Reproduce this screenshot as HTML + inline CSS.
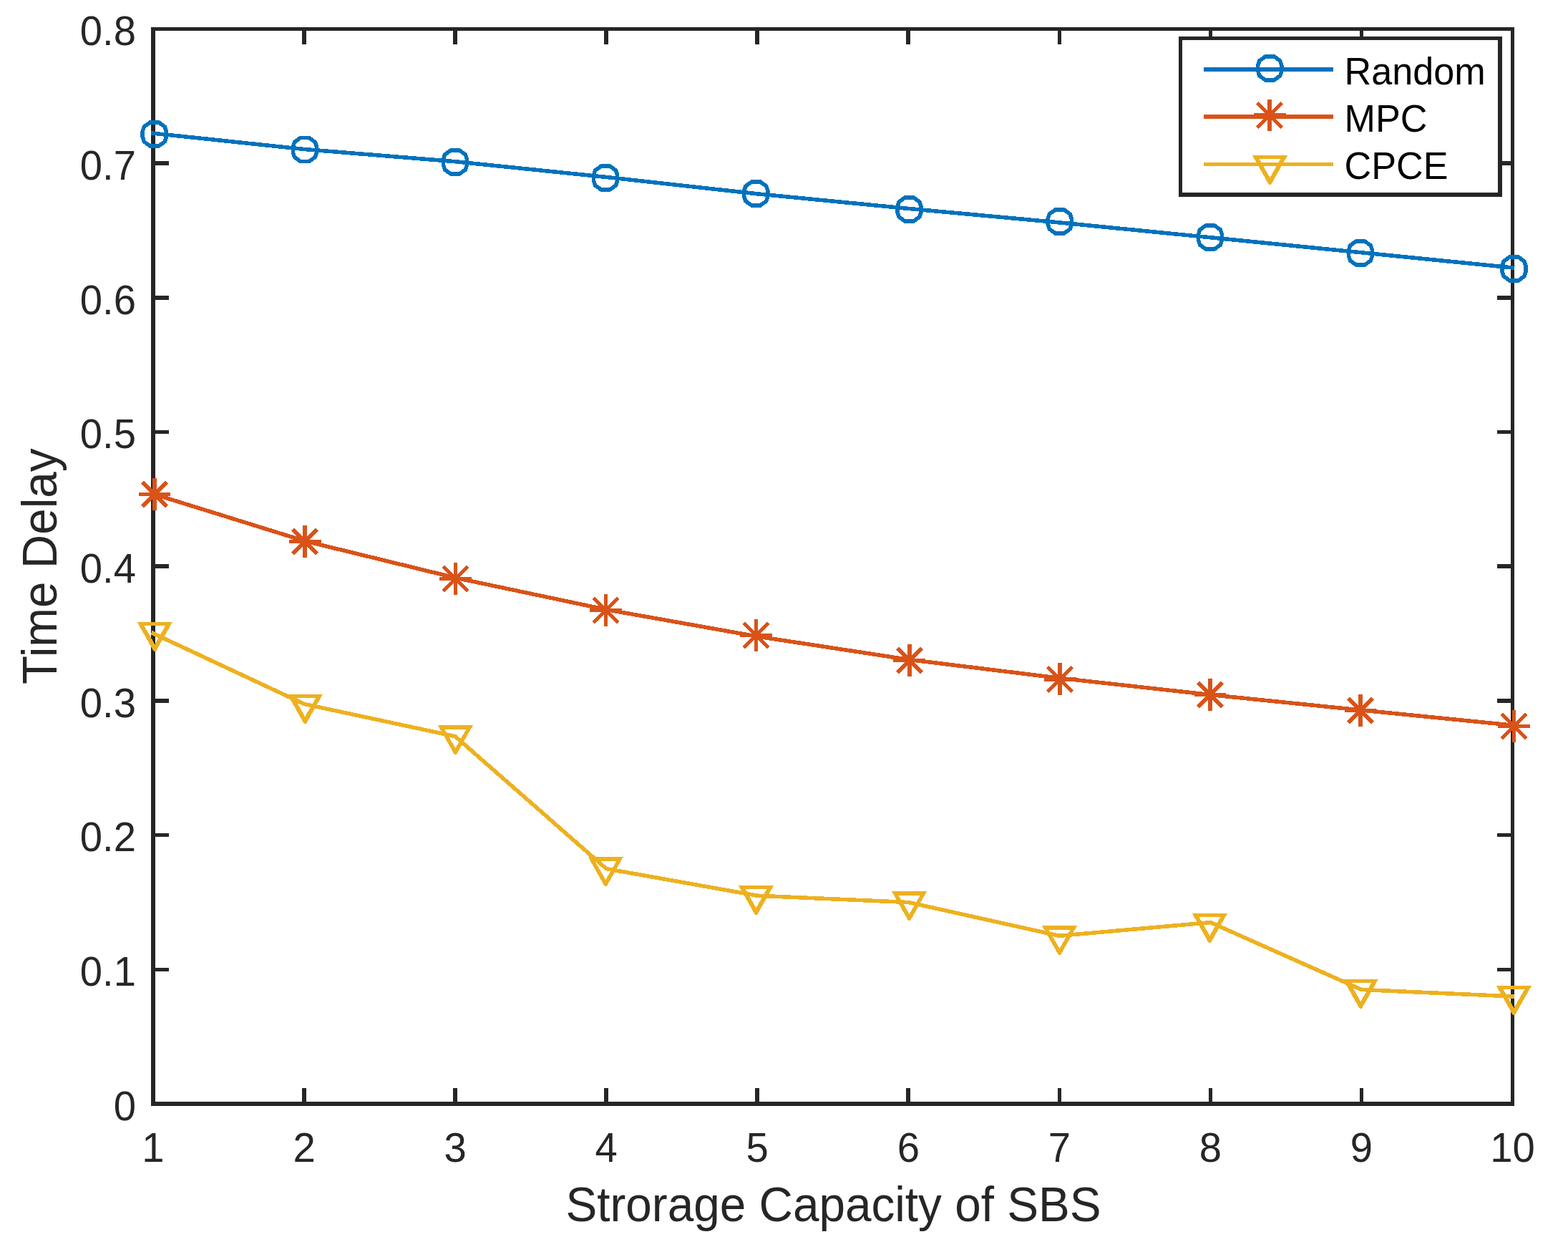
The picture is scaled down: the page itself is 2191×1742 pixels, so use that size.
<!DOCTYPE html>
<html lang="en">
<head>
<meta charset="utf-8">
<title>Time Delay vs Strorage Capacity of SBS</title>
<style>
html,body{margin:0;padding:0;background:#fff;}
body{width:2191px;height:1742px;overflow:hidden;}
svg{display:block;}
text{font-family:"Liberation Sans",Arial,Helvetica,sans-serif;}
.tick{font-size:58.06px;fill:#262626;}
.label{font-size:69.34px;fill:#262626;}
.leg{font-size:54.3px;fill:#000;}
</style>
</head>
<body>
<svg width="2191" height="1742" viewBox="0 0 2191 1742">
<rect x="0" y="0" width="2191" height="1742" fill="#ffffff"/>
<g id="axes" shape-rendering="crispEdges">
<rect x="211" y="38" width="1905" height="5" fill="#262626"/>
<rect x="211" y="1539" width="1905" height="6" fill="#262626"/>
<rect x="211" y="38" width="6" height="1507" fill="#262626"/>
<rect x="2111" y="38" width="5" height="1507" fill="#262626"/>
<rect x="422" y="1520" width="6" height="22" fill="#262626"/>
<rect x="422" y="41" width="6" height="21" fill="#262626"/>
<rect x="633" y="1520" width="6" height="22" fill="#262626"/>
<rect x="633" y="41" width="6" height="21" fill="#262626"/>
<rect x="844" y="1520" width="6" height="22" fill="#262626"/>
<rect x="844" y="41" width="6" height="21" fill="#262626"/>
<rect x="1055" y="1520" width="6" height="22" fill="#262626"/>
<rect x="1055" y="41" width="6" height="21" fill="#262626"/>
<rect x="1266" y="1520" width="6" height="22" fill="#262626"/>
<rect x="1266" y="41" width="6" height="21" fill="#262626"/>
<rect x="1478" y="1520" width="5" height="22" fill="#262626"/>
<rect x="1478" y="41" width="5" height="21" fill="#262626"/>
<rect x="1689" y="1520" width="5" height="22" fill="#262626"/>
<rect x="1689" y="41" width="5" height="21" fill="#262626"/>
<rect x="1900" y="1520" width="5" height="22" fill="#262626"/>
<rect x="1900" y="41" width="5" height="21" fill="#262626"/>
<rect x="214" y="1352" width="22" height="5" fill="#262626"/>
<rect x="2092" y="1352" width="22" height="5" fill="#262626"/>
<rect x="214" y="1164" width="22" height="5" fill="#262626"/>
<rect x="2092" y="1164" width="22" height="5" fill="#262626"/>
<rect x="214" y="976" width="22" height="6" fill="#262626"/>
<rect x="2092" y="976" width="22" height="6" fill="#262626"/>
<rect x="214" y="788" width="22" height="6" fill="#262626"/>
<rect x="2092" y="788" width="22" height="6" fill="#262626"/>
<rect x="214" y="601" width="22" height="5" fill="#262626"/>
<rect x="2092" y="601" width="22" height="5" fill="#262626"/>
<rect x="214" y="413" width="22" height="6" fill="#262626"/>
<rect x="2092" y="413" width="22" height="6" fill="#262626"/>
<rect x="214" y="225" width="22" height="6" fill="#262626"/>
<rect x="2092" y="225" width="22" height="6" fill="#262626"/>
</g>
<g id="xticklabels" class="tick" text-anchor="middle">
<text transform="translate(214.0 1622.8) scale(0.969 1)">1</text>
<text transform="translate(425.1 1622.8) scale(0.969 1)">2</text>
<text transform="translate(636.1 1622.8) scale(0.969 1)">3</text>
<text transform="translate(847.2 1622.8) scale(0.969 1)">4</text>
<text transform="translate(1058.2 1622.8) scale(0.969 1)">5</text>
<text transform="translate(1269.3 1622.8) scale(0.969 1)">6</text>
<text transform="translate(1480.3 1622.8) scale(0.969 1)">7</text>
<text transform="translate(1691.4 1622.8) scale(0.969 1)">8</text>
<text transform="translate(1902.4 1622.8) scale(0.969 1)">9</text>
<text transform="translate(2113.5 1622.8) scale(0.969 1)">10</text>
</g>
<g id="yticklabels" class="tick" text-anchor="end">
<text transform="translate(190.0 1564.8) scale(0.969 1)">0</text>
<text transform="translate(190.0 1377.1) scale(0.969 1)">0.1</text>
<text transform="translate(190.0 1189.4) scale(0.969 1)">0.2</text>
<text transform="translate(190.0 1001.7) scale(0.969 1)">0.3</text>
<text transform="translate(190.0 814.0) scale(0.969 1)">0.4</text>
<text transform="translate(190.0 626.4) scale(0.969 1)">0.5</text>
<text transform="translate(190.0 438.7) scale(0.969 1)">0.6</text>
<text transform="translate(190.0 251.0) scale(0.969 1)">0.7</text>
<text transform="translate(190.0 63.3) scale(0.969 1)">0.8</text>
</g>
<text class="label" text-anchor="middle" transform="translate(1164.5 1706) scale(0.947 1)">Strorage Capacity of SBS</text>
<text class="label" text-anchor="middle" transform="translate(79.1 791.2) rotate(-90) scale(0.947 1)">Time Delay</text>
<g id="random" shape-rendering="crispEdges">
<polyline points="214.00,186.20 425.06,208.50 636.11,225.70 847.17,247.45 1058.22,270.80 1269.28,291.40 1480.33,310.90 1691.39,331.75 1902.44,352.80 2113.50,373.95" fill="none" stroke="#0072BD" stroke-width="5.556" stroke-linejoin="round" stroke-linecap="square"/>
<polygon points="221.70,170.90 230.20,177.00 232.40,183.70 232.40,191.30 230.20,198.00 221.70,204.10 209.90,204.10 201.40,198.00 199.20,191.30 199.20,183.70 201.40,177.00 209.90,170.90" fill="none" stroke="#0072BD" stroke-width="5.556" stroke-linejoin="miter"/>
<polygon points="431.80,192.40 440.30,198.50 442.50,205.20 442.50,212.80 440.30,219.50 431.80,225.60 420.00,225.60 411.50,219.50 409.30,212.80 409.30,205.20 411.50,198.50 420.00,192.40" fill="none" stroke="#0072BD" stroke-width="5.556" stroke-linejoin="miter"/>
<polygon points="641.90,209.90 650.40,216.00 652.60,222.70 652.60,230.30 650.40,237.00 641.90,243.10 630.10,243.10 621.60,237.00 619.40,230.30 619.40,222.70 621.60,216.00 630.10,209.90" fill="none" stroke="#0072BD" stroke-width="5.556" stroke-linejoin="miter"/>
<polygon points="852.00,231.90 860.50,238.00 862.70,244.70 862.70,252.30 860.50,259.00 852.00,265.10 840.20,265.10 831.70,259.00 829.50,252.30 829.50,244.70 831.70,238.00 840.20,231.90" fill="none" stroke="#0072BD" stroke-width="5.556" stroke-linejoin="miter"/>
<polygon points="1062.20,253.90 1070.70,260.00 1072.90,266.70 1072.90,274.30 1070.70,281.00 1062.20,287.10 1050.40,287.10 1041.90,281.00 1039.70,274.30 1039.70,266.70 1041.90,260.00 1050.40,253.90" fill="none" stroke="#0072BD" stroke-width="5.556" stroke-linejoin="miter"/>
<polygon points="1276.40,275.90 1284.90,282.00 1287.10,288.70 1287.10,296.30 1284.90,303.00 1276.40,309.10 1264.60,309.10 1256.10,303.00 1253.90,296.30 1253.90,288.70 1256.10,282.00 1264.60,275.90" fill="none" stroke="#0072BD" stroke-width="5.556" stroke-linejoin="miter"/>
<polygon points="1486.70,292.90 1495.20,299.00 1497.40,305.70 1497.40,313.30 1495.20,320.00 1486.70,326.10 1474.90,326.10 1466.40,320.00 1464.20,313.30 1464.20,305.70 1466.40,299.00 1474.90,292.90" fill="none" stroke="#0072BD" stroke-width="5.556" stroke-linejoin="miter"/>
<polygon points="1696.90,314.90 1705.40,321.00 1707.60,327.70 1707.60,335.30 1705.40,342.00 1696.90,348.10 1685.10,348.10 1676.60,342.00 1674.40,335.30 1674.40,327.70 1676.60,321.00 1685.10,314.90" fill="none" stroke="#0072BD" stroke-width="5.556" stroke-linejoin="miter"/>
<polygon points="1906.90,336.90 1915.40,343.00 1917.60,349.70 1917.60,357.30 1915.40,364.00 1906.90,370.10 1895.10,370.10 1886.60,364.00 1884.40,357.30 1884.40,349.70 1886.60,343.00 1895.10,336.90" fill="none" stroke="#0072BD" stroke-width="5.556" stroke-linejoin="miter"/>
<polygon points="2121.40,358.90 2129.90,365.00 2132.10,371.70 2132.10,379.30 2129.90,386.00 2121.40,392.10 2109.60,392.10 2101.10,386.00 2098.90,379.30 2098.90,371.70 2101.10,365.00 2109.60,358.90" fill="none" stroke="#0072BD" stroke-width="5.556" stroke-linejoin="miter"/>
</g>
<g id="mpc" shape-rendering="crispEdges">
<polyline points="214.00,690.00 425.06,755.55 636.11,807.10 847.17,851.55 1058.22,889.10 1269.28,921.35 1480.33,947.25 1691.39,970.60 1902.44,992.10 2113.50,1013.10" fill="none" stroke="#D95319" stroke-width="5.556" stroke-linejoin="round" stroke-linecap="square"/>
<rect x="213" y="668" width="6" height="45" fill="#D95319"/><rect x="194" y="688" width="44" height="5" fill="#D95319"/><path d="M198.76 673.26L233.24 707.74M198.76 707.74L233.24 673.26" fill="none" stroke="#D95319" stroke-width="5.556" stroke-linecap="butt"/>
<rect x="423" y="734" width="6" height="45" fill="#D95319"/><rect x="404" y="754" width="45" height="5" fill="#D95319"/><path d="M408.76 739.26L443.24 773.74M408.76 773.74L443.24 739.26" fill="none" stroke="#D95319" stroke-width="5.556" stroke-linecap="butt"/>
<rect x="634" y="786" width="5" height="45" fill="#D95319"/><rect x="614" y="806" width="45" height="5" fill="#D95319"/><path d="M619.26 791.26L653.74 825.74M619.26 825.74L653.74 791.26" fill="none" stroke="#D95319" stroke-width="5.556" stroke-linecap="butt"/>
<rect x="844" y="830" width="5" height="45" fill="#D95319"/><rect x="824" y="850" width="45" height="5" fill="#D95319"/><path d="M829.26 835.26L863.74 869.74M829.26 869.74L863.74 835.26" fill="none" stroke="#D95319" stroke-width="5.556" stroke-linecap="butt"/>
<rect x="1054" y="865" width="5" height="45" fill="#D95319"/><rect x="1034" y="885" width="45" height="5" fill="#D95319"/><path d="M1039.26 870.26L1073.74 904.74M1039.26 904.74L1073.74 870.26" fill="none" stroke="#D95319" stroke-width="5.556" stroke-linecap="butt"/>
<rect x="1268" y="900" width="6" height="45" fill="#D95319"/><rect x="1248" y="920" width="45" height="5" fill="#D95319"/><path d="M1253.76 905.26L1288.24 939.74M1253.76 939.74L1288.24 905.26" fill="none" stroke="#D95319" stroke-width="5.556" stroke-linecap="butt"/>
<rect x="1478" y="926" width="6" height="45" fill="#D95319"/><rect x="1459" y="946" width="45" height="6" fill="#D95319"/><path d="M1463.76 931.76L1498.24 966.24M1463.76 966.24L1498.24 931.76" fill="none" stroke="#D95319" stroke-width="5.556" stroke-linecap="butt"/>
<rect x="1688" y="948" width="6" height="45" fill="#D95319"/><rect x="1669" y="968" width="44" height="5" fill="#D95319"/><path d="M1673.76 953.26L1708.24 987.74M1673.76 987.74L1708.24 953.26" fill="none" stroke="#D95319" stroke-width="5.556" stroke-linecap="butt"/>
<rect x="1898" y="970" width="6" height="45" fill="#D95319"/><rect x="1879" y="990" width="44" height="5" fill="#D95319"/><path d="M1883.76 975.26L1918.24 1009.74M1883.76 1009.74L1918.24 975.26" fill="none" stroke="#D95319" stroke-width="5.556" stroke-linecap="butt"/>
<rect x="2113" y="992" width="5" height="45" fill="#D95319"/><rect x="2093" y="1012" width="45" height="5" fill="#D95319"/><path d="M2098.26 997.26L2132.74 1031.74M2098.26 1031.74L2132.74 997.26" fill="none" stroke="#D95319" stroke-width="5.556" stroke-linecap="butt"/>
</g>
<g id="cpce" shape-rendering="crispEdges">
<polyline points="214.00,884.80 425.06,983.50 636.11,1028.70 847.17,1213.60 1058.22,1251.20 1269.28,1260.50 1480.33,1307.30 1691.39,1288.60 1902.44,1382.50 2113.50,1391.90" fill="none" stroke="#EDB120" stroke-width="5.556" stroke-linejoin="round" stroke-linecap="square"/>
<path fill-rule="evenodd" fill="#EDB120" d="M191.70 869H240.90L217.80 910.00H214.80ZM201.30 874H231.30L216.30 900.00Z"/>
<path fill-rule="evenodd" fill="#EDB120" d="M401.70 970H450.90L427.80 1011.00H424.80ZM411.30 975H441.30L426.30 1001.00Z"/>
<path fill-rule="evenodd" fill="#EDB120" d="M611.80 1013H661.00L637.90 1054.00H634.90ZM621.40 1019H651.40L636.40 1045.00Z"/>
<path fill-rule="evenodd" fill="#EDB120" d="M821.70 1197H870.90L847.80 1238.00H844.80ZM831.30 1203H861.30L846.30 1229.00Z"/>
<path fill-rule="evenodd" fill="#EDB120" d="M1031.90 1237H1081.10L1058.00 1278.00H1055.00ZM1041.50 1242H1071.50L1056.50 1268.00Z"/>
<path fill-rule="evenodd" fill="#EDB120" d="M1246.00 1245H1295.20L1272.10 1286.00H1269.10ZM1255.60 1251H1285.60L1270.60 1277.00Z"/>
<path fill-rule="evenodd" fill="#EDB120" d="M1455.90 1293H1505.10L1482.00 1334.00H1479.00ZM1465.50 1299H1495.50L1480.50 1325.00Z"/>
<path fill-rule="evenodd" fill="#EDB120" d="M1665.80 1276H1715.00L1691.90 1317.00H1688.90ZM1675.40 1281H1705.40L1690.40 1307.00Z"/>
<path fill-rule="evenodd" fill="#EDB120" d="M1876.70 1368H1925.90L1902.80 1409.00H1899.80ZM1886.30 1373H1916.30L1901.30 1399.00Z"/>
<path fill-rule="evenodd" fill="#EDB120" d="M2090.80 1377H2140.00L2116.90 1418.00H2113.90ZM2100.40 1382H2130.40L2115.40 1408.00Z"/>
</g>
<g id="legend">
<rect x="1647" y="51" width="452" height="224" fill="#ffffff"/>
<g shape-rendering="crispEdges">
<rect x="1647" y="51" width="452" height="5" fill="#262626"/>
<rect x="1647" y="269" width="452" height="6" fill="#262626"/>
<rect x="1647" y="51" width="5" height="224" fill="#262626"/>
<rect x="2093" y="51" width="6" height="224" fill="#262626"/>
<rect x="1682" y="94" width="181" height="6" fill="#0072BD"/>
<polygon points="1780.20,78.80 1788.70,84.90 1790.90,91.60 1790.90,99.20 1788.70,105.90 1780.20,112.00 1768.40,112.00 1759.90,105.90 1757.70,99.20 1757.70,91.60 1759.90,84.90 1768.40,78.80" fill="none" stroke="#0072BD" stroke-width="5.556" stroke-linejoin="miter"/>
<rect x="1682" y="160" width="181" height="6" fill="#D95319"/>
<rect x="1771" y="139" width="6" height="44" fill="#D95319"/><rect x="1752" y="158" width="45" height="6" fill="#D95319"/><path d="M1756.76 143.76L1791.24 178.24M1756.76 178.24L1791.24 143.76" fill="none" stroke="#D95319" stroke-width="5.556" stroke-linecap="butt"/>
<rect x="1682" y="227" width="181" height="5" fill="#EDB120"/>
<path fill-rule="evenodd" fill="#EDB120" d="M1749.90 217H1799.10L1776.00 258.00H1773.00ZM1759.50 222H1789.50L1774.50 248.00Z"/>
</g>
<text class="leg" transform="translate(1878.6 117.8) scale(0.961 1)">Random</text>
<text class="leg" transform="translate(1878.6 183.8) scale(0.961 1)">MPC</text>
<text class="leg" transform="translate(1878.6 250.2) scale(0.961 1)">CPCE</text>
</g>
</svg>
</body>
</html>
